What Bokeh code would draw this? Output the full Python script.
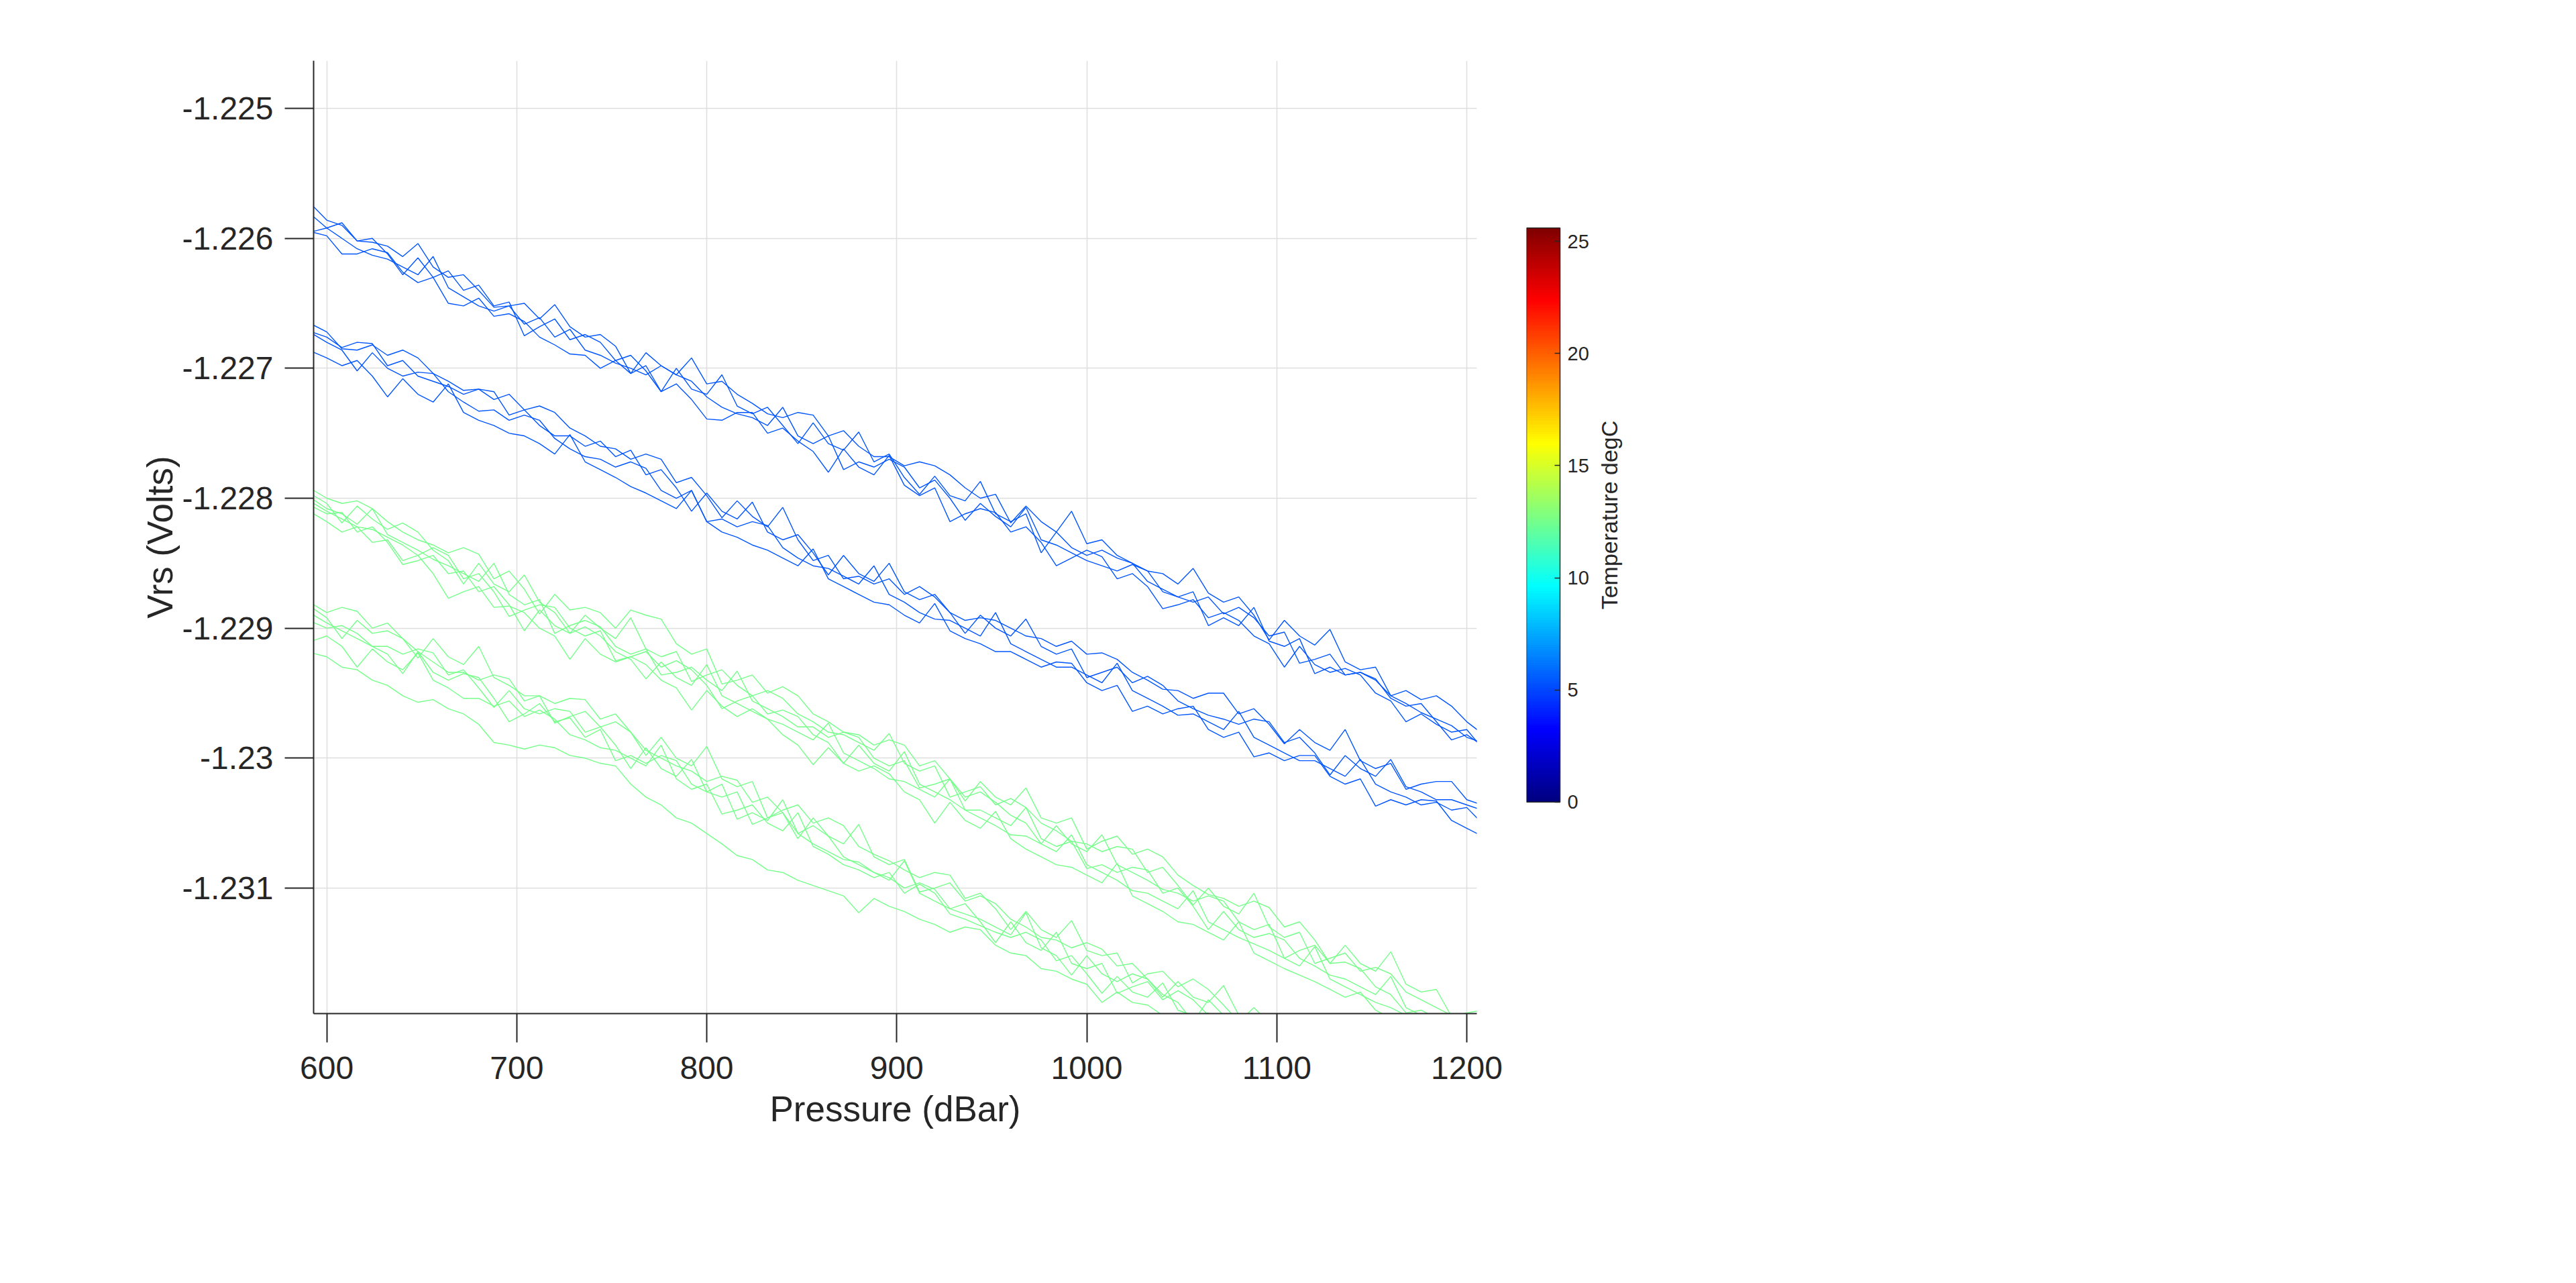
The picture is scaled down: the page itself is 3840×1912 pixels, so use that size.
import numpy as np
from bokeh.plotting import figure
from bokeh.models import Range1d, FixedTicker, CustomJSTickFormatter, LinearColorMapper, ColumnDataSource, LinearAxis
from bokeh.core.properties import value
from bokeh.layouts import row
from bokeh.embed import file_html
from bokeh.resources import INLINE

# ---------------- data ----------------
pressure = [592, 600, 608, 616, 624, 632, 640, 648, 656, 664, 672, 680, 688, 696, 704, 712, 720, 728, 736, 744,
            752, 760, 768, 776, 784, 792, 800, 808, 816, 824, 832, 840, 848, 856, 864, 872, 880, 888, 896, 904,
            912, 920, 928, 936, 944, 952, 960, 968, 976, 984, 992, 1000, 1008, 1016, 1024, 1032, 1040, 1048, 1056, 1064,
            1072, 1080, 1088, 1096, 1104, 1112, 1120, 1128, 1136, 1144, 1152, 1160, 1168, 1176, 1184, 1192, 1200, 1208]

vrs_b1a = [-1.22574, -1.22586, -1.22590, -1.22602, -1.22603, -1.22606, -1.22614, -1.22604, -1.22622, -1.22630,
           -1.22628, -1.22640, -1.22653, -1.22652, -1.22650, -1.22662, -1.22651, -1.22668, -1.22676, -1.22674,
           -1.22683, -1.22704, -1.22688, -1.22698, -1.22705, -1.22692, -1.22712, -1.22710, -1.22720, -1.22727,
           -1.22735, -1.22738, -1.22734, -1.22736, -1.22752, -1.22748, -1.22760, -1.22768, -1.22768, -1.22775,
           -1.22772, -1.22775, -1.22782, -1.22792, -1.22800, -1.22797, -1.22819, -1.22806, -1.22818, -1.22826,
           -1.22810, -1.22835, -1.22832, -1.22844, -1.22850, -1.22856, -1.22858, -1.22866, -1.22854, -1.22873,
           -1.22880, -1.22876, -1.22890, -1.22909, -1.22894, -1.22906, -1.22913, -1.22901, -1.22926, -1.22932,
           -1.22930, -1.22952, -1.22948, -1.22955, -1.22952, -1.22960, -1.22972, -1.22981]
vrs_b1b = [-1.22582, -1.22592, -1.22588, -1.22602, -1.22600, -1.22612, -1.22628, -1.22615, -1.22630, -1.22625,
           -1.22640, -1.22636, -1.22652, -1.22649, -1.22675, -1.22668, -1.22662, -1.22678, -1.22674, -1.22680,
           -1.22694, -1.22690, -1.22702, -1.22718, -1.22700, -1.22716, -1.22720, -1.22705, -1.22729, -1.22735,
           -1.22730, -1.22744, -1.22758, -1.22742, -1.22758, -1.22763, -1.22749, -1.22772, -1.22766, -1.22784,
           -1.22797, -1.22783, -1.22798, -1.22802, -1.22787, -1.22812, -1.22818, -1.22812, -1.22842, -1.22826,
           -1.22838, -1.22844, -1.22840, -1.22846, -1.22850, -1.22864, -1.22870, -1.22876, -1.22880, -1.22876,
           -1.22889, -1.22884, -1.22892, -1.22906, -1.22903, -1.22927, -1.22924, -1.22920, -1.22936, -1.22934,
           -1.22940, -1.22952, -1.22958, -1.22965, -1.22970, -1.22975, -1.22984, -1.22988]
vrs_b1c = [-1.22595, -1.22592, -1.22600, -1.22608, -1.22613, -1.22616, -1.22622, -1.22628, -1.22614, -1.22638,
           -1.22645, -1.22652, -1.22656, -1.22652, -1.22666, -1.22661, -1.22676, -1.22670, -1.22686, -1.22690,
           -1.22696, -1.22700, -1.22705, -1.22698, -1.22705, -1.22710, -1.22722, -1.22730, -1.22735, -1.22738,
           -1.22744, -1.22730, -1.22752, -1.22758, -1.22752, -1.22778, -1.22772, -1.22776, -1.22770, -1.22776,
           -1.22792, -1.22786, -1.22800, -1.22817, -1.22804, -1.22814, -1.22822, -1.22807, -1.22832, -1.22836,
           -1.22842, -1.22848, -1.22852, -1.22856, -1.22851, -1.22856, -1.22872, -1.22876, -1.22872, -1.22898,
           -1.22892, -1.22898, -1.22884, -1.22910, -1.22914, -1.22908, -1.22935, -1.22930, -1.22936, -1.22934,
           -1.22939, -1.22954, -1.22960, -1.22958, -1.22972, -1.22986, -1.22982, -1.22990]
vrs_b1d = [-1.22595, -1.22598, -1.22612, -1.22612, -1.22608, -1.22611, -1.22626, -1.22634, -1.22630, -1.22650,
           -1.22652, -1.22646, -1.22660, -1.22658, -1.22664, -1.22676, -1.22682, -1.22689, -1.22690, -1.22700,
           -1.22694, -1.22704, -1.22698, -1.22718, -1.22712, -1.22724, -1.22739, -1.22740, -1.22734, -1.22734,
           -1.22750, -1.22746, -1.22756, -1.22764, -1.22780, -1.22762, -1.22776, -1.22782, -1.22767, -1.22790,
           -1.22798, -1.22792, -1.22818, -1.22812, -1.22808, -1.22811, -1.22826, -1.22822, -1.22834, -1.22852,
           -1.22846, -1.22840, -1.22845, -1.22862, -1.22858, -1.22868, -1.22885, -1.22882, -1.22878, -1.22892,
           -1.22888, -1.22894, -1.22906, -1.22912, -1.22930, -1.22914, -1.22928, -1.22934, -1.22931, -1.22936,
           -1.22950, -1.22956, -1.22972, -1.22966, -1.22974, -1.22980, -1.22978, -1.22992]

vrs_b2a = [-1.22666, -1.22672, -1.22685, -1.22686, -1.22682, -1.22690, -1.22686, -1.22692, -1.22704, -1.22710,
           -1.22717, -1.22716, -1.22724, -1.22720, -1.22732, -1.22729, -1.22734, -1.22746, -1.22752, -1.22760,
           -1.22762, -1.22770, -1.22766, -1.22770, -1.22788, -1.22784, -1.22798, -1.22815, -1.22802, -1.22814,
           -1.22822, -1.22807, -1.22832, -1.22848, -1.22844, -1.22862, -1.22860, -1.22866, -1.22862, -1.22874,
           -1.22868, -1.22876, -1.22888, -1.22894, -1.22892, -1.22894, -1.22900, -1.22906, -1.22908, -1.22914,
           -1.22910, -1.22920, -1.22919, -1.22924, -1.22934, -1.22940, -1.22947, -1.22948, -1.22954, -1.22950,
           -1.22950, -1.22966, -1.22962, -1.22974, -1.22989, -1.22978, -1.22988, -1.22994, -1.22978, -1.23002,
           -1.23008, -1.23004, -1.23024, -1.23020, -1.23018, -1.23018, -1.23032, -1.23036]
vrs_b2b = [-1.22672, -1.22676, -1.22684, -1.22680, -1.22681, -1.22698, -1.22694, -1.22706, -1.22710, -1.22714,
           -1.22720, -1.22716, -1.22718, -1.22736, -1.22732, -1.22744, -1.22752, -1.22752, -1.22760, -1.22756,
           -1.22768, -1.22763, -1.22782, -1.22778, -1.22792, -1.22810, -1.22796, -1.22810, -1.22816, -1.22803,
           -1.22826, -1.22832, -1.22828, -1.22842, -1.22859, -1.22844, -1.22858, -1.22864, -1.22850, -1.22872,
           -1.22878, -1.22874, -1.22888, -1.22904, -1.22890, -1.22900, -1.22906, -1.22893, -1.22914, -1.22920,
           -1.22916, -1.22938, -1.22934, -1.22930, -1.22942, -1.22937, -1.22944, -1.22956, -1.22962, -1.22967,
           -1.22970, -1.22974, -1.22970, -1.22972, -1.22988, -1.22984, -1.22996, -1.23013, -1.22998, -1.23008,
           -1.23014, -1.23001, -1.23022, -1.23026, -1.23032, -1.23032, -1.23036, -1.23040]
vrs_b2c = [-1.22673, -1.22680, -1.22686, -1.22702, -1.22688, -1.22700, -1.22706, -1.22703, -1.22704, -1.22718,
           -1.22726, -1.22733, -1.22732, -1.22740, -1.22736, -1.22740, -1.22754, -1.22762, -1.22768, -1.22770,
           -1.22776, -1.22772, -1.22777, -1.22794, -1.22800, -1.22794, -1.22818, -1.22816, -1.22822, -1.22818,
           -1.22821, -1.22838, -1.22846, -1.22852, -1.22854, -1.22860, -1.22866, -1.22852, -1.22874, -1.22880,
           -1.22888, -1.22893, -1.22894, -1.22900, -1.22906, -1.22888, -1.22912, -1.22918, -1.22924, -1.22930,
           -1.22930, -1.22936, -1.22942, -1.22927, -1.22948, -1.22954, -1.22960, -1.22967, -1.22966, -1.22972,
           -1.22978, -1.22964, -1.22984, -1.22990, -1.22996, -1.23002, -1.23002, -1.23008, -1.23014, -1.23001,
           -1.23020, -1.23026, -1.23030, -1.23036, -1.23034, -1.23040, -1.23038, -1.23050]
vrs_b2d = [-1.22687, -1.22692, -1.22698, -1.22694, -1.22706, -1.22722, -1.22708, -1.22720, -1.22726, -1.22712,
           -1.22734, -1.22740, -1.22744, -1.22750, -1.22752, -1.22758, -1.22766, -1.22751, -1.22772, -1.22778,
           -1.22784, -1.22791, -1.22796, -1.22802, -1.22808, -1.22794, -1.22818, -1.22826, -1.22830, -1.22836,
           -1.22840, -1.22846, -1.22852, -1.22839, -1.22862, -1.22868, -1.22874, -1.22880, -1.22882, -1.22890,
           -1.22896, -1.22881, -1.22902, -1.22908, -1.22912, -1.22918, -1.22918, -1.22924, -1.22930, -1.22926,
           -1.22927, -1.22942, -1.22948, -1.22944, -1.22964, -1.22960, -1.22966, -1.22962, -1.22960, -1.22978,
           -1.22984, -1.22980, -1.22999, -1.22996, -1.23002, -1.22998, -1.22998, -1.23014, -1.23020, -1.23016,
           -1.23037, -1.23032, -1.23036, -1.23032, -1.23033, -1.23048, -1.23054, -1.23060]

vrs_g1a = [-1.22793, -1.22800, -1.22804, -1.22802, -1.22808, -1.22818, -1.22826, -1.22832, -1.22836, -1.22842,
           -1.22838, -1.22843, -1.22862, -1.22856, -1.22870, -1.22889, -1.22874, -1.22886, -1.22884, -1.22888,
           -1.22900, -1.22886, -1.22890, -1.22893, -1.22912, -1.22920, -1.22916, -1.22943, -1.22940, -1.22936,
           -1.22950, -1.22945, -1.22952, -1.22966, -1.22972, -1.22980, -1.22982, -1.22990, -1.22986, -1.22990,
           -1.23006, -1.23002, -1.23016, -1.23033, -1.23018, -1.23030, -1.23036, -1.23023, -1.23046, -1.23050,
           -1.23046, -1.23070, -1.23064, -1.23060, -1.23074, -1.23070, -1.23076, -1.23090, -1.23098, -1.23105,
           -1.23108, -1.23114, -1.23110, -1.23115, -1.23130, -1.23126, -1.23140, -1.23158, -1.23144, -1.23158,
           -1.23164, -1.23149, -1.23174, -1.23180, -1.23178, -1.23199, -1.23196, -1.23194]
vrs_g1b = [-1.22797, -1.22804, -1.22819, -1.22806, -1.22816, -1.22824, -1.22819, -1.22826, -1.22840, -1.22848,
           -1.22866, -1.22850, -1.22866, -1.22872, -1.22859, -1.22880, -1.22888, -1.22904, -1.22890, -1.22900,
           -1.22908, -1.22892, -1.22916, -1.22922, -1.22918, -1.22941, -1.22936, -1.22932, -1.22944, -1.22952,
           -1.22948, -1.22954, -1.22966, -1.22972, -1.22980, -1.22982, -1.22988, -1.22994, -1.22981, -1.23004,
           -1.23010, -1.23006, -1.23030, -1.23026, -1.23022, -1.23036, -1.23031, -1.23038, -1.23050, -1.23056,
           -1.23064, -1.23066, -1.23072, -1.23068, -1.23070, -1.23088, -1.23084, -1.23098, -1.23113, -1.23100,
           -1.23114, -1.23120, -1.23104, -1.23130, -1.23138, -1.23134, -1.23158, -1.23154, -1.23150, -1.23164,
           -1.23161, -1.23166, -1.23180, -1.23186, -1.23192, -1.23198, -1.23204, -1.23210]
vrs_g1c = [-1.22800, -1.22808, -1.22812, -1.22820, -1.22808, -1.22828, -1.22834, -1.22840, -1.22847, -1.22852,
           -1.22858, -1.22864, -1.22850, -1.22874, -1.22882, -1.22878, -1.22904, -1.22898, -1.22894, -1.22899,
           -1.22914, -1.22920, -1.22916, -1.22936, -1.22934, -1.22930, -1.22940, -1.22948, -1.22933, -1.22956,
           -1.22962, -1.22968, -1.22976, -1.22976, -1.22984, -1.22980, -1.22984, -1.23000, -1.23006, -1.23002,
           -1.23023, -1.23020, -1.23016, -1.23030, -1.23026, -1.23034, -1.23044, -1.23050, -1.23066, -1.23052,
           -1.23066, -1.23072, -1.23059, -1.23082, -1.23088, -1.23094, -1.23101, -1.23104, -1.23110, -1.23106,
           -1.23110, -1.23126, -1.23132, -1.23128, -1.23154, -1.23148, -1.23144, -1.23158, -1.23157, -1.23162,
           -1.23176, -1.23182, -1.23196, -1.23194, -1.23200, -1.23206, -1.23212, -1.23218]
vrs_g1d = [-1.22803, -1.22810, -1.22816, -1.22822, -1.22824, -1.22830, -1.22836, -1.22844, -1.22838, -1.22844,
           -1.22862, -1.22858, -1.22872, -1.22891, -1.22886, -1.22882, -1.22884, -1.22900, -1.22906, -1.22902,
           -1.22925, -1.22922, -1.22918, -1.22930, -1.22925, -1.22932, -1.22944, -1.22962, -1.22956, -1.22952,
           -1.22966, -1.22963, -1.22968, -1.22982, -1.22988, -1.23004, -1.22990, -1.23004, -1.23010, -1.22995,
           -1.23020, -1.23026, -1.23032, -1.23040, -1.23040, -1.23046, -1.23052, -1.23038, -1.23062, -1.23068,
           -1.23064, -1.23085, -1.23082, -1.23088, -1.23084, -1.23086, -1.23104, -1.23100, -1.23114, -1.23132,
           -1.23118, -1.23132, -1.23138, -1.23135, -1.23140, -1.23154, -1.23160, -1.23167, -1.23170, -1.23176,
           -1.23182, -1.23168, -1.23192, -1.23198, -1.23204, -1.23200, -1.23214, -1.23220]
vrs_g1e = [-1.22806, -1.22812, -1.22811, -1.22826, -1.22822, -1.22834, -1.22851, -1.22848, -1.22844, -1.22858,
           -1.22856, -1.22872, -1.22868, -1.22882, -1.22902, -1.22886, -1.22898, -1.22904, -1.22899, -1.22906,
           -1.22918, -1.22924, -1.22939, -1.22926, -1.22938, -1.22944, -1.22928, -1.22952, -1.22958, -1.22964,
           -1.22970, -1.22974, -1.22980, -1.22986, -1.22973, -1.22996, -1.23002, -1.23008, -1.23016, -1.23018,
           -1.23024, -1.23030, -1.23016, -1.23040, -1.23046, -1.23052, -1.23059, -1.23060, -1.23066, -1.23072,
           -1.23059, -1.23082, -1.23088, -1.23094, -1.23102, -1.23104, -1.23110, -1.23116, -1.23102, -1.23126,
           -1.23132, -1.23138, -1.23143, -1.23148, -1.23154, -1.23160, -1.23145, -1.23170, -1.23176, -1.23182,
           -1.23188, -1.23192, -1.23198, -1.23204, -1.23210, -1.23216, -1.23222, -1.23228]
vrs_g1f = [-1.22811, -1.22818, -1.22826, -1.22822, -1.22834, -1.22832, -1.22848, -1.22844, -1.22858, -1.22877,
           -1.22872, -1.22868, -1.22884, -1.22883, -1.22888, -1.22900, -1.22906, -1.22924, -1.22908, -1.22920,
           -1.22926, -1.22922, -1.22928, -1.22940, -1.22946, -1.22963, -1.22948, -1.22960, -1.22968, -1.22962,
           -1.22970, -1.22982, -1.22990, -1.23005, -1.22992, -1.23004, -1.23010, -1.23006, -1.23012, -1.23026,
           -1.23032, -1.23050, -1.23034, -1.23048, -1.23054, -1.23041, -1.23062, -1.23070, -1.23076, -1.23082,
           -1.23084, -1.23090, -1.23096, -1.23081, -1.23106, -1.23112, -1.23118, -1.23126, -1.23128, -1.23134,
           -1.23140, -1.23126, -1.23150, -1.23156, -1.23162, -1.23167, -1.23172, -1.23178, -1.23184, -1.23180,
           -1.23194, -1.23200, -1.23206, -1.23212, -1.23218, -1.23224, -1.23230, -1.23236]

vrs_g2a = [-1.22881, -1.22888, -1.22884, -1.22887, -1.22900, -1.22896, -1.22908, -1.22923, -1.22908, -1.22922,
           -1.22928, -1.22914, -1.22938, -1.22944, -1.22952, -1.22952, -1.22958, -1.22954, -1.22955, -1.22970,
           -1.22966, -1.22980, -1.22998, -1.22984, -1.23000, -1.23006, -1.22991, -1.23016, -1.23022, -1.23018,
           -1.23046, -1.23040, -1.23036, -1.23050, -1.23046, -1.23052, -1.23068, -1.23074, -1.23079, -1.23086,
           -1.23092, -1.23088, -1.23090, -1.23108, -1.23104, -1.23116, -1.23132, -1.23118, -1.23132, -1.23138,
           -1.23125, -1.23148, -1.23152, -1.23150, -1.23173, -1.23166, -1.23164, -1.23176, -1.23170, -1.23178,
           -1.23190, -1.23203, -1.23192, -1.23204]
vrs_g2b = [-1.22884, -1.22892, -1.22908, -1.22894, -1.22904, -1.22902, -1.22908, -1.22918, -1.22926, -1.22934,
           -1.22934, -1.22940, -1.22936, -1.22939, -1.22956, -1.22952, -1.22973, -1.22968, -1.22964, -1.22976,
           -1.22972, -1.22980, -1.22994, -1.23000, -1.23006, -1.23010, -1.23018, -1.23014, -1.23017, -1.23034,
           -1.23030, -1.23042, -1.23062, -1.23046, -1.23060, -1.23066, -1.23051, -1.23076, -1.23082, -1.23078,
           -1.23103, -1.23100, -1.23096, -1.23110, -1.23106, -1.23112, -1.23124, -1.23130, -1.23138, -1.23140,
           -1.23146, -1.23142, -1.23147, -1.23160, -1.23158, -1.23170, -1.23184, -1.23172, -1.23184, -1.23188,
           -1.23175, -1.23198, -1.23202, -1.23206]
vrs_g2c = [-1.22889, -1.22896, -1.22902, -1.22908, -1.22914, -1.22914, -1.22920, -1.22916, -1.22919, -1.22936,
           -1.22932, -1.22946, -1.22961, -1.22948, -1.22962, -1.22966, -1.22962, -1.22964, -1.22980, -1.22976,
           -1.22990, -1.23008, -1.22992, -1.23008, -1.23014, -1.23001, -1.23026, -1.23030, -1.23026, -1.23051,
           -1.23046, -1.23042, -1.23058, -1.23052, -1.23060, -1.23076, -1.23082, -1.23088, -1.23092, -1.23100,
           -1.23096, -1.23101, -1.23116, -1.23112, -1.23126, -1.23142, -1.23126, -1.23142, -1.23148, -1.23134,
           -1.23158, -1.23162, -1.23158, -1.23181, -1.23176, -1.23172, -1.23186, -1.23179, -1.23186, -1.23198,
           -1.23202, -1.23208, -1.23210, -1.23214]
vrs_g2d = [-1.22895, -1.22900, -1.22898, -1.22904, -1.22914, -1.22920, -1.22935, -1.22918, -1.22934, -1.22940,
           -1.22935, -1.22938, -1.22954, -1.22972, -1.22966, -1.22958, -1.22972, -1.22969, -1.22984, -1.22978,
           -1.23002, -1.22998, -1.23004, -1.22998, -1.23002, -1.23020, -1.23026, -1.23020, -1.23047, -1.23042,
           -1.23048, -1.23032, -1.23058, -1.23066, -1.23072, -1.23078, -1.23080, -1.23088, -1.23094, -1.23079,
           -1.23104, -1.23110, -1.23116, -1.23120, -1.23124, -1.23130, -1.23136, -1.23119, -1.23146, -1.23152,
           -1.23167, -1.23152, -1.23166, -1.23172, -1.23166, -1.23170, -1.23182, -1.23188, -1.23203, -1.23186,
           -1.23198, -1.23204, -1.23210, -1.23214]
vrs_g2e = [-1.22910, -1.22906, -1.22914, -1.22930, -1.22916, -1.22926, -1.22932, -1.22919, -1.22940, -1.22946,
           -1.22954, -1.22954, -1.22960, -1.22956, -1.22968, -1.22963, -1.22970, -1.22982, -1.22986, -1.22992,
           -1.22994, -1.23000, -1.23006, -1.22990, -1.23016, -1.23024, -1.23020, -1.23043, -1.23040, -1.23036,
           -1.23050, -1.23056, -1.23042, -1.23068, -1.23074, -1.23082, -1.23086, -1.23092, -1.23088, -1.23104,
           -1.23097, -1.23104, -1.23120, -1.23124, -1.23129, -1.23134, -1.23138, -1.23134, -1.23140, -1.23156,
           -1.23152, -1.23166, -1.23181, -1.23168, -1.23180, -1.23184, -1.23173, -1.23194, -1.23198, -1.23196,
           -1.23214, -1.23210, -1.23208, -1.23218]
vrs_g2f = [-1.22919, -1.22922, -1.22930, -1.22932, -1.22940, -1.22944, -1.22952, -1.22957, -1.22955, -1.22962,
           -1.22966, -1.22974, -1.22988, -1.22990, -1.22993, -1.22990, -1.22992, -1.22998, -1.23000, -1.23004,
           -1.23006, -1.23020, -1.23030, -1.23036, -1.23046, -1.23050, -1.23058, -1.23066, -1.23075, -1.23078,
           -1.23086, -1.23088, -1.23094, -1.23098, -1.23102, -1.23106, -1.23119, -1.23108, -1.23114, -1.23118,
           -1.23124, -1.23128, -1.23134, -1.23130, -1.23132, -1.23144, -1.23150, -1.23152, -1.23162, -1.23164,
           -1.23170, -1.23174, -1.23188, -1.23180, -1.23188, -1.23190, -1.23198, -1.23200, -1.23206, -1.23208,
           -1.23214, -1.23216, -1.23222, -1.23224]

# temperature (degC) of each profile, used for the colour
line_temps = [5.3, 5.3, 5.3, 5.3, 5.3, 5.3, 5.3, 5.3,
              12.5, 12.5, 12.5, 12.5, 12.5, 12.5, 12.5, 12.5, 12.5, 12.5, 12.5, 12.5]

x_ticks = [600, 700, 800, 900, 1000, 1100, 1200]
y_ticks = [-1.231, -1.230, -1.229, -1.228, -1.227, -1.226, -1.225]
temp_ticks = [0, 5, 10, 15, 20, 25]
temp_low, temp_high = 0.0, 25.6
colorbar_title = "Temperature degC"

# ---------------- colour map (jet) ----------------
def _jet(t):
    r = min(max(1.5 - abs(4 * t - 3), 0.0), 1.0)
    g = min(max(1.5 - abs(4 * t - 2), 0.0), 1.0)
    b = min(max(1.5 - abs(4 * t - 1), 0.0), 1.0)
    return "#%02x%02x%02x" % (int(round(r * 255)), int(round(g * 255)), int(round(b * 255)))

jet_palette = [_jet(i / 255.0) for i in range(256)]
mapper = LinearColorMapper(palette=jet_palette, low=temp_low, high=temp_high)

lines = [vrs_b1a, vrs_b1b, vrs_b1c, vrs_b1d, vrs_b2a, vrs_b2b, vrs_b2c, vrs_b2d,
         vrs_g1a, vrs_g1b, vrs_g1c, vrs_g1d, vrs_g1e, vrs_g1f,
         vrs_g2a, vrs_g2b, vrs_g2c, vrs_g2d, vrs_g2e, vrs_g2f]
src = ColumnDataSource(dict(xs=[pressure[:len(v)] for v in lines], ys=lines, temp=line_temps))

FONT = "Liberation Sans"
DARK = "#262626"
TOP, BOTTOM, HEIGHT = 90, 380, 1890

# ---------------- main plot ----------------
p = figure(width=2270, height=HEIGHT,
           x_range=Range1d(593.1, 1205.3), y_range=Range1d(-1.231966, -1.224633),
           output_backend="svg", toolbar_location=None,
           min_border_left=467, min_border_right=69, min_border_top=TOP, min_border_bottom=BOTTOM)
p.outline_line_color = None
p.background_fill_color = "white"
p.border_fill_color = "white"

p.multi_line(xs="xs", ys="ys", source=src,
             line_color={"field": "temp", "transform": mapper}, line_width=1.4)

p.xgrid.grid_line_color = "#dedede"
p.ygrid.grid_line_color = "#dedede"
p.xgrid.grid_line_width = 1.5
p.ygrid.grid_line_width = 1.5

p.xaxis.ticker = FixedTicker(ticks=x_ticks)
p.yaxis.ticker = FixedTicker(ticks=y_ticks)
p.yaxis.formatter = CustomJSTickFormatter(code="return String(Math.round(tick*1000)/1000);")

for ax in (p.xaxis[0], p.yaxis[0]):
    ax.axis_line_color = DARK
    ax.axis_line_width = 2
    ax.major_tick_line_color = DARK
    ax.major_tick_line_width = 2
    ax.major_tick_out = 43
    ax.major_tick_in = 0
    ax.minor_tick_line_color = None
    ax.major_label_text_font = FONT
    ax.major_label_text_font_size = "48px"
    ax.major_label_text_color = DARK
    ax.axis_label_text_font = FONT
    ax.axis_label_text_font_size = "53px"
    ax.axis_label_text_font_style = "normal"
    ax.axis_label_text_color = DARK

p.xaxis.major_label_standoff = 21
p.yaxis.major_label_standoff = 17
p.xaxis.axis_label = "Pressure (dBar)"
p.yaxis.axis_label = "Vrs (Volts)"
p.xaxis.axis_label_standoff = 12
p.yaxis.axis_label_standoff = 0

# ---------------- colour bar ----------------
# frame spans page x 2283..2440 and y 98..1518; the bar (x 0..1) is 50 px wide and
# spans 0..25.6 degC between page y 1203 and 347
cb = figure(width=450, height=HEIGHT, x_range=Range1d(0, 3.14), y_range=Range1d(-9.43, 33.055),
            output_backend="svg", toolbar_location=None,
            x_axis_location=None, y_axis_location=None,
            min_border_left=5, min_border_right=288, min_border_top=TOP, min_border_bottom=BOTTOM)
cb.outline_line_color = None
cb.grid.grid_line_color = None
cb.background_fill_color = "white"
cb.border_fill_color = "white"
levels = np.linspace(temp_low, temp_high, 256).reshape(256, 1)
cb.image(image=[levels], x=0, y=temp_low, dw=1, dh=temp_high - temp_low, color_mapper=mapper)
cb.quad(left=0, right=1, bottom=temp_low, top=temp_high, fill_color=None, line_color=DARK, line_width=1.5)

cax = LinearAxis(fixed_location=1)
cax.ticker = FixedTicker(ticks=temp_ticks)
cax.axis_line_color = None
cax.major_tick_in = 8
cax.major_tick_out = 0
cax.major_tick_line_color = DARK
cax.major_tick_line_width = 1.5
cax.minor_tick_line_color = None
cax.major_label_text_font = FONT
cax.major_label_text_font_size = "29px"
cax.major_label_text_color = DARK
cax.major_label_standoff = 11
cb.add_layout(cax, "right")

cb.text(x=[2.46], y=[(temp_low + temp_high) / 2], text=[colorbar_title], angle=np.pi / 2,
        text_align="center", text_baseline="middle", text_font=value(FONT),
        text_font_size="34px", text_color=DARK)

layout = row(p, cb)
open("out.html", "w").write(file_html(layout, INLINE))
